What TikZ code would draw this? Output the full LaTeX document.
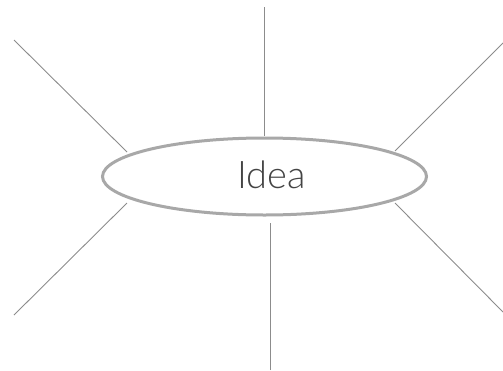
\documentclass[tikz,border=0pt]{standalone}
\usepackage{fontspec}
\setmainfont{Lato}
\newfontfamily\ideafont{Lato Light}
\usepackage{tikz}
\usetikzlibrary{shapes.geometric}
\definecolor{ringgray}{HTML}{A8A8A8}
\definecolor{spokegray}{HTML}{8C8C8C}
\definecolor{textgray}{HTML}{444444}
\tikzset{
  ideabox/.style={ellipse,draw=ringgray,line width=3pt,fill=white,minimum width=324pt,minimum height=77pt,inner sep=0pt,text=textgray,font=\ideafont\fontsize{38}{40}\selectfont},
  spoke/.style={draw=spokegray,line width=.9pt},
}
\begin{document}
\begin{tikzpicture}[x=1pt,y=-1pt]
    \useasboundingbox (0,0) rectangle (503,370);
    \node[ideabox] (idea) at (264.5,176.5) {\hspace{14pt}\raisebox{3pt}{Idea}};
    % spokes
    \coordinate (n1) at (264,7);   \coordinate (n0) at (264,136);
    \coordinate (s1) at (270,370); \coordinate (s0) at (270,223);
    \coordinate (nw1) at (14,40);  \coordinate (nw0) at (127,152);
    \coordinate (sw1) at (14,315); \coordinate (sw0) at (127,203);
    \coordinate (ne1) at (503,43); \coordinate (ne0) at (395,151);
    \coordinate (se1) at (503,312);\coordinate (se0) at (395,203);
    \foreach \d in {n,s,nw,sw,ne,se}
      \draw[spoke] (\d1)--(\d0);
  \end{tikzpicture}
\end{document}
